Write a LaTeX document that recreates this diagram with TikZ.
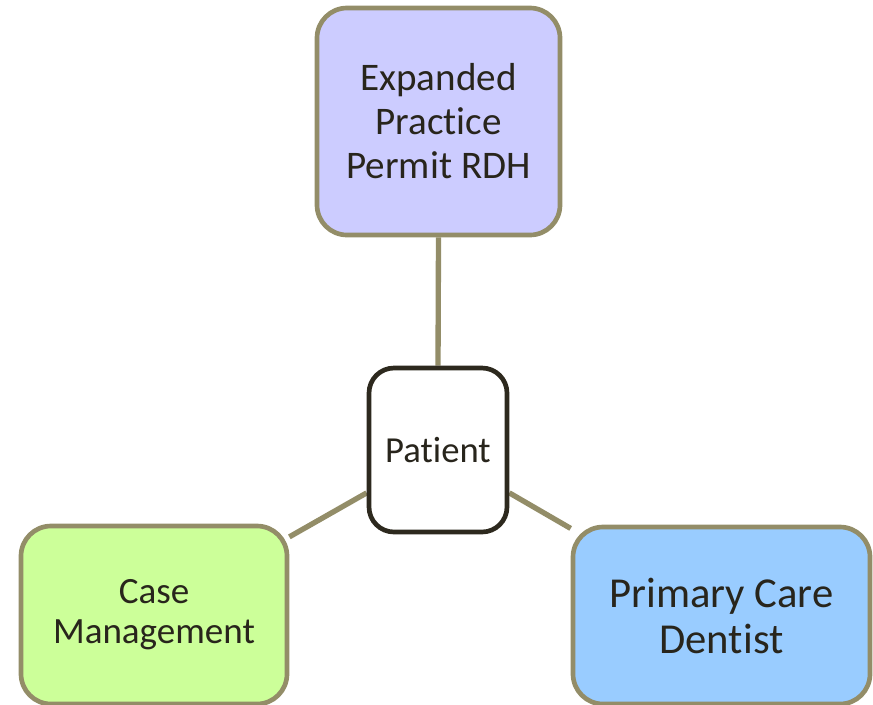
\documentclass[tikz,border=0pt]{standalone}
\usepackage{fontspec}
\setmainfont[Ligatures=NoCommon]{Carlito}
\usetikzlibrary{backgrounds}
\definecolor{roleline}{RGB}{147,141,104}
\definecolor{patientline}{RGB}{45,41,30}
\definecolor{roletext}{RGB}{40,37,28}
\definecolor{permitfill}{RGB}{204,204,255}
\definecolor{casefill}{RGB}{204,255,153}
\definecolor{dentistfill}{RGB}{153,204,255}

\begin{document}
\begin{tikzpicture}[x=0.75pt,y=-0.75pt,
    role/.style={draw=roleline,line width=3.5pt,rounded corners=22.5pt,align=center,inner sep=0pt,text=roletext},
    link/.style={draw=roleline,line width=4pt},
    ]
  \useasboundingbox (0,0) rectangle (873,704);
  \node[role,fill=permitfill,minimum width=182.25pt,minimum height=170.25pt,
    font=\fontsize{29.3}{33}\selectfont] (permit) at (438.5,121.5) {Expanded\\Practice\\Permit RDH};
  \node[role,draw=patientline,fill=white,rounded corners=18.75pt,minimum width=103.5pt,minimum height=123pt,
    font=\fontsize{27.5}{32}\selectfont] (patient) at (438,450) {Patient};
  \node[role,fill=casefill,minimum width=199.5pt,minimum height=133.5pt,
    font=\fontsize{27.8}{30}\selectfont] (casemgmt) at (154,615) {Case\\Management};
  \node[role,fill=dentistfill,minimum width=222.75pt,minimum height=132.75pt,
    font=\fontsize{32}{34.5}\selectfont] (dentist) at (721.5,615.5) {Primary Care\\Dentist};
  \begin{scope}[on background layer]
    \draw[link] (permit.south) -- (patient.north);
    \draw[link] (patient.211) -- (casemgmt.30);
    \draw[link] (patient.329) -- (dentist.150);
  \end{scope}
\end{tikzpicture}
\end{document}
